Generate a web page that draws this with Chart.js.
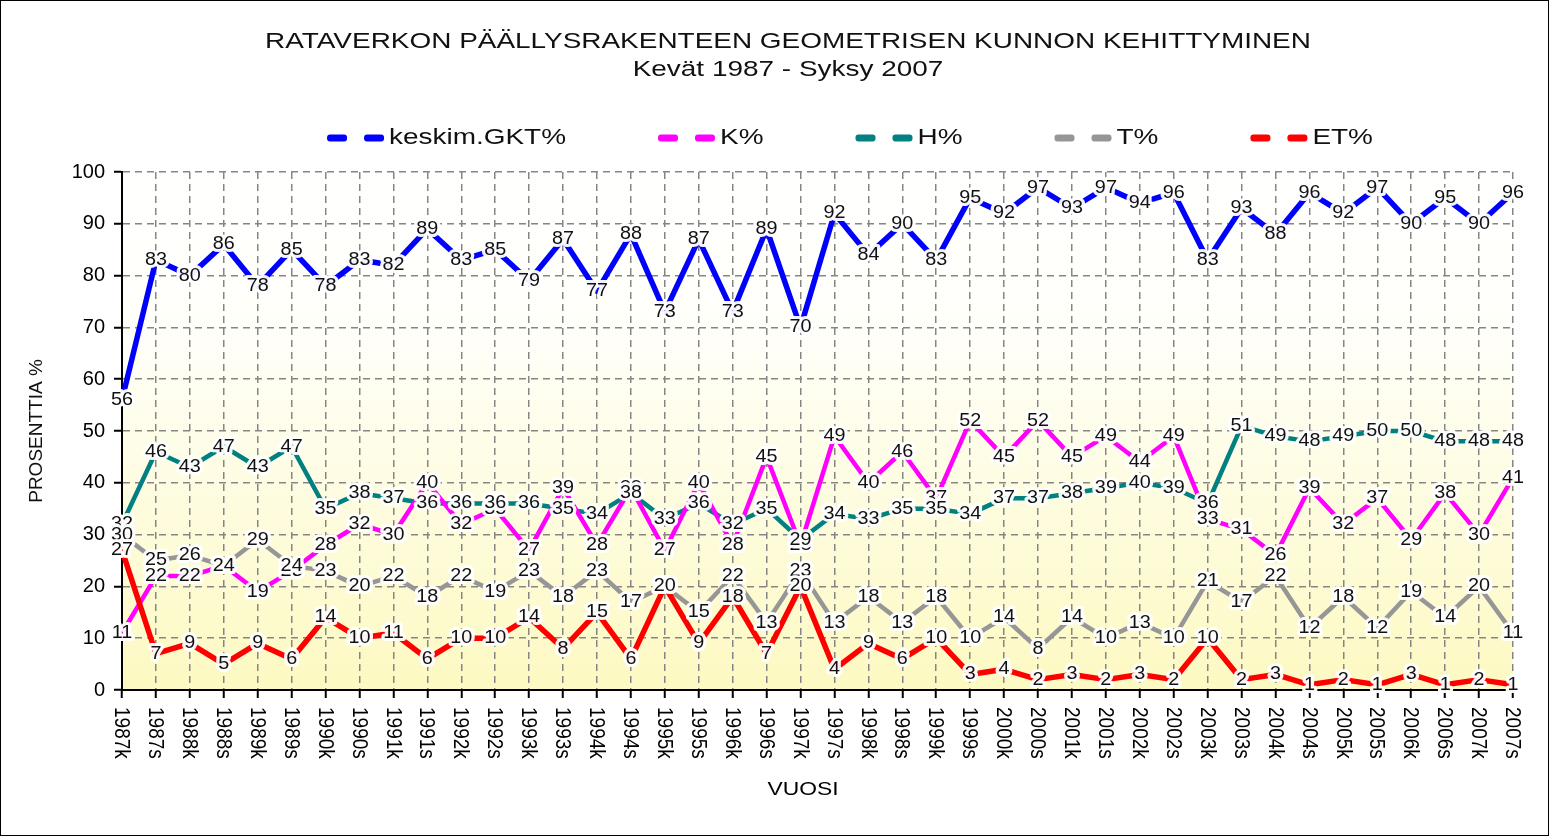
<!DOCTYPE html>
<html>
<head>
<meta charset="utf-8">
<script src="https://cdn.jsdelivr.net/npm/chart.js@4.4.0/dist/chart.umd.min.js"></script>
<style>
  html, body { margin: 0; padding: 0; background: #fff; }
  #wrap { width: 1549px; height: 836px; }
</style>
</head>
<body>
<div id="wrap"><canvas id="chart" width="1549" height="836"></canvas></div>
<script>
// kevät (k) / syksy (s) measurements 1987-2007
const labels = [
  '1987k', '1987s', '1988k', '1988s', '1989k', '1989s', '1990k', '1990s', '1991k', '1991s',
  '1992k', '1992s', '1993k', '1993s', '1994k', '1994s', '1995k', '1995s', '1996k', '1996s',
  '1997k', '1997s', '1998k', '1998s', '1999k', '1999s', '2000k', '2000s', '2001k', '2001s',
  '2002k', '2002s', '2003k', '2003s', '2004k', '2004s', '2005k', '2005s', '2006k', '2006s',
  '2007k', '2007s'
];
const gktValues = [56, 83, 80, 86, 78, 85, 78, 83, 82, 89, 83, 85, 79, 87, 77, 88, 73, 87, 73, 89,
  70, 92, 84, 90, 83, 95, 92, 97, 93, 97, 94, 96, 83, 93, 88, 96, 92, 97, 90, 95, 90, 96];
const kValues = [11, 22, 22, 24, 19, 23, 28, 32, 30, 40, 32, 35, 27, 39, 28, 39, 27, 40, 28, 45,
  28, 49, 40, 46, 37, 52, 45, 52, 45, 49, 44, 49, 33, 31, 26, 39, 32, 37, 29, 38, 30, 41];
const hValues = [32, 46, 43, 47, 43, 47, 35, 38, 37, 36, 36, 36, 36, 35, 34, 38, 33, 36, 32, 35,
  29, 34, 33, 35, 35, 34, 37, 37, 38, 39, 40, 39, 36, 51, 49, 48, 49, 50, 50, 48, 48, 48];
const tValues = [30, 25, 26, 24, 29, 24, 23, 20, 22, 18, 22, 19, 23, 18, 23, 17, 20, 15, 22, 13,
  23, 13, 18, 13, 18, 10, 14, 8, 14, 10, 13, 10, 21, 17, 22, 12, 18, 12, 19, 14, 20, 11];
const etValues = [27, 7, 9, 5, 9, 6, 14, 10, 11, 6, 10, 10, 14, 8, 15, 6, 20, 9, 18, 7,
  20, 4, 9, 6, 10, 3, 4, 2, 3, 2, 3, 2, 10, 2, 3, 1, 2, 1, 3, 1, 2, 1];

const titleText = 'RATAVERKON PÄÄLLYSRAKENTEEN GEOMETRISEN KUNNON KEHITTYMINEN';
const subtitleText = 'Kevät 1987 - Syksy 2007';

const FONT = '"Liberation Sans", Arial, sans-serif';
const SX = 1.27; // the original picture is stretched sideways

function wideText(ctx, text, x, y, sx, align) {
  ctx.save();
  ctx.translate(x, y);
  ctx.scale(sx, 1);
  ctx.textAlign = align || 'center';
  ctx.textBaseline = 'middle';
  ctx.fillText(text, 0, 0);
  ctx.restore();
}

function line(label, data, color, width, order) {
  return {
    label, data, order,
    borderColor: color,
    backgroundColor: color,
    borderWidth: width,
    pointRadius: 0,
    tension: 0,
    fill: false,
    borderJoinStyle: 'round'
  };
}

const backdrop = {
  id: 'backdrop',
  beforeDraw(chart) {
    const { ctx, chartArea: a } = chart;
    ctx.save();
    ctx.fillStyle = '#fff';
    ctx.fillRect(0, 0, chart.width, chart.height);
    const g = ctx.createLinearGradient(0, a.top, 0, a.bottom);
    g.addColorStop(0, '#ffffff');
    g.addColorStop(0.3, '#fffffa');
    g.addColorStop(1, '#fdf9c2');
    ctx.fillStyle = g;
    ctx.fillRect(a.left, a.top, a.right - a.left, a.bottom - a.top);
    ctx.restore();
  }
};

const pointLabels = {
  id: 'pointLabels',
  afterDatasetsDraw(chart) {
    const ctx = chart.ctx;
    ctx.save();
    ctx.font = '18px ' + FONT;
    ctx.textAlign = 'center';
    ctx.textBaseline = 'middle';
    ctx.lineJoin = 'round';
    chart.data.datasets.forEach((ds, di) => {
      const meta = chart.getDatasetMeta(di);
      meta.data.forEach((pt, i) => {
        const txt = String(ds.data[i]);
        ctx.save();
        ctx.translate(pt.x, pt.y);
        ctx.scale(1.1, 1);
        ctx.strokeStyle = 'rgba(255,255,255,0.95)';
        ctx.lineWidth = 6;
        ctx.strokeText(txt, 0, 0);
        ctx.fillStyle = '#111';
        ctx.fillText(txt, 0, 0);
        ctx.restore();
      });
    });
    ctx.restore();
  }
};

const decorations = {
  id: 'decorations',
  afterDraw(chart) {
    const ctx = chart.ctx;
    const xs = chart.scales.x;
    ctx.save();
    ctx.fillStyle = '#111';

    // titles
    ctx.font = '22px ' + FONT;
    wideText(ctx, titleText, 788, 42, SX);
    wideText(ctx, subtitleText, 788, 70, SX);

    // legend: two short dashes + label
    const items = chart.data.datasets.map(ds => ({ text: ds.label, color: ds.borderColor }));
    const dashW = 20, dashGap = 17, symW = dashW * 2 + dashGap, textGap = 5, spacing = 92;
    const widths = items.map(it => symW + textGap + ctx.measureText(it.text).width * SX);
    const total = widths.reduce((s, w) => s + w, 0) + spacing * (items.length - 1);
    let lx = 850 - total / 2;
    const ly = 138;
    items.forEach((it, i) => {
      ctx.fillStyle = it.color;
      [lx, lx + dashW + dashGap].forEach(dx => {
        ctx.beginPath();
        ctx.roundRect(dx, ly - 3.5, dashW, 7, 3);
        ctx.fill();
      });
      ctx.fillStyle = '#111';
      wideText(ctx, it.text, lx + symW + textGap, ly, SX, 'left');
      lx += widths[i] + spacing;
    });

    // x tick labels, turned to read downwards
    ctx.font = '19px ' + FONT;
    ctx.fillStyle = '#000';
    ctx.textAlign = 'left';
    ctx.textBaseline = 'middle';
    xs.ticks.forEach((t, i) => {
      const x = xs.getPixelForTick(i);
      ctx.save();
      ctx.translate(x - 1, chart.chartArea.bottom + 17);
      ctx.rotate(Math.PI / 2);
      ctx.scale(1, 1.12);
      ctx.fillText(labels[i], 0, 0);
      ctx.restore();
    });

    // x axis title
    ctx.font = '18px ' + FONT;
    wideText(ctx, 'VUOSI', 803, 790, SX);

    // frame
    ctx.strokeStyle = '#000';
    ctx.lineWidth = 1;
    ctx.strokeRect(0.5, 0.5, chart.width - 1, chart.height - 1);
    ctx.restore();
  }
};

const gridStyle = {
  color: '#858585',
  lineWidth: 1.5,
  tickLength: 8,
  tickColor: '#000',
  tickWidth: 2
};
const borderStyle = { display: true, color: '#000', width: 2, dash: [7, 5] };

new Chart(document.getElementById('chart'), {
  type: 'line',
  data: {
    labels,
    datasets: [
      line('keskim.GKT%', gktValues, '#0000ff', 5.5, 1),
      line('K%', kValues, '#ff00ff', 4.5, 2),
      line('H%', hValues, '#008080', 4.5, 3),
      line('T%', tValues, '#969696', 4.5, 4),
      line('ET%', etValues, '#ff0000', 5.5, 0)
    ]
  },
  options: {
    responsive: false,
    animation: false,
    devicePixelRatio: 1,
    layout: { padding: { top: 172, right: 36, bottom: 0, left: 10 } },
    plugins: {
      legend: { display: false },
      title: { display: false },
      tooltip: { enabled: false }
    },
    scales: {
      x: {
        type: 'category',
        offset: false,
        grid: gridStyle,
        border: borderStyle,
        ticks: { display: false, autoSkip: false },
        afterFit: s => { s.height = 146; }
      },
      y: {
        min: 0,
        max: 100,
        grid: gridStyle,
        border: borderStyle,
        ticks: {
          stepSize: 10,
          color: '#000',
          padding: 9,
          font: { family: FONT, size: 20 }
        },
        title: {
          display: true,
          text: 'PROSENTTIA %',
          color: '#111',
          font: { family: FONT, size: 19 },
          padding: { top: 15, bottom: 0 }
        },
        afterFit: s => { s.width = 112; }
      }
    }
  },
  plugins: [backdrop, pointLabels, decorations]
});
</script>
</body>
</html>
